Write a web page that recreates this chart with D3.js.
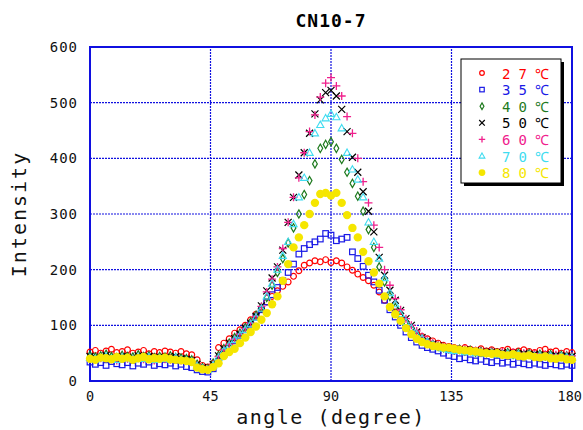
<!DOCTYPE html>
<html>
<head>
<meta charset="utf-8">
<script src="https://cdn.jsdelivr.net/npm/d3@7"></script>
<style>
  body { margin: 0; background: #fff; }
  svg { display: block; }
  text { font-family: "DejaVu Sans Mono", monospace; }
</style>
</head>
<body>
<div id="chart"></div>
<script>
// angle grid (degree)
const angles = [0,2,4,6,8,10,12,14,16,18,20,22,24,26,28,30,32,34,36,38,
  40,42,44,46,48,50,52,54,56,58,60,62,64,66,68,70,72,74,76,78,80,82,84,86,88,90,
  92,94,96,98,100,102,104,106,108,110,112,114,116,118,120,122,124,126,128,130,
  132,134,136,138,140,142,144,146,148,150,152,154,156,158,160,162,164,166,168,170,
  172,174,176,178,180];

const t27 = [52,55,50,54,57,51,53,56,50,52,55,49,53,51,54,52,50,53,49,47,
  38,28,25,
  32,60,68,76,86,92,100,110,120,130,142,152,162,170,178,188,198,208,212,216,214,218,213,
  216,212,205,199,192,186,180,172,160,145,133,124,115,104,94,
  86,80,76,72,68,64,62,60,58,60,57,55,58,54,56,53,55,57,52,54,56,53,51,55,57,52,54,50,53,51];

const t35 = [34,30,33,28,35,31,29,33,27,32,30,34,28,31,29,32,27,30,26,24,
  20,17,16,
  22,35,48,60,72,82,92,102,115,128,142,155,168,180,195,210,228,238,245,250,255,265,262,
  252,255,258,232,220,206,190,178,163,145,128,115,100,88,78,
  70,64,60,57,54,50,46,44,40,42,38,36,39,35,33,36,32,34,30,33,31,29,32,30,28,31,29,27,30,28];

const t40 = [46,43,45,48,44,42,46,44,43,47,44,45,42,44,43,45,42,41,40,38,
  30,24,22,
  32,46,58,68,78,86,96,106,118,132,150,172,195,220,248,275,300,335,360,390,418,425,430,
  418,398,375,355,332,305,272,240,205,178,152,132,118,105,94,
  84,76,70,66,62,60,58,56,57,54,55,52,53,51,52,50,49,51,48,50,47,49,46,48,45,47,44,46,45,44];

const t50 = [44,41,43,46,42,40,44,43,41,45,42,44,40,43,42,41,44,40,39,37,
  30,24,22,
  30,45,58,68,76,84,95,104,116,135,162,185,205,235,285,330,370,410,445,480,505,518,522,
  512,488,448,402,375,340,305,268,222,190,163,145,127,112,100,
  88,78,72,66,63,60,58,57,55,56,53,54,52,50,52,49,51,48,50,47,49,46,48,45,47,44,46,43,45,44];

const t60 = [40,38,41,43,39,37,42,40,38,41,39,42,37,40,39,38,41,37,36,34,
  28,22,21,
  30,44,56,66,75,84,94,104,116,134,160,183,205,238,285,330,365,410,448,478,510,535,545,
  530,512,475,445,400,358,320,280,240,200,172,148,128,112,100,
  90,80,73,68,64,61,59,58,56,57,54,55,53,51,53,50,52,49,51,48,50,47,49,46,48,45,47,44,46,45];

const t70 = [42,39,41,44,40,38,43,41,39,42,40,43,38,41,40,39,42,38,37,35,
  27,22,20,
  28,42,54,64,74,82,92,102,114,130,152,175,200,225,250,282,330,365,410,445,460,472,480,
  474,454,410,380,362,330,285,250,220,185,158,138,120,106,95,
  84,76,70,65,61,58,56,54,55,52,53,50,51,49,50,48,47,49,46,48,45,47,44,46,43,45,42,44,43,42];

const t80 = [40,38,42,41,39,43,40,42,38,41,43,39,41,40,42,39,38,37,36,34,
  24,21,20,
  25,32,45,52,58,68,78,88,98,110,122,138,152,180,210,240,258,280,300,320,336,338,333,
  338,320,298,275,258,232,215,195,175,152,133,120,108,95,84,
  76,70,66,63,62,60,60,58,56,55,54,53,51,50,49,50,47,46,48,45,44,46,43,42,44,41,40,42,39,38];

const seriesNames = ["27℃","35℃","40℃","50℃","60℃","70℃","80℃"];
const seriesValues = [t27, t35, t40, t50, t60, t70, t80];
const seriesColors = ["#ff0000","#1a1ae6","#1e7a1e","#000000","#f0208c","#40dcf0","#f5e600"];
const seriesMarks = ["circle","square","diamond","cross","plus","triangle","dot"];

const xTicks = [0,45,90,135,180];
const yTicks = [0,100,200,300,400,500,600];

const W = 583, H = 430;
const margin = {top: 47, right: 11, bottom: 49, left: 90};

const svg = d3.select("#chart").append("svg")
  .attr("width", W).attr("height", H);

const x = d3.scaleLinear().domain([0,180]).range([margin.left, W - margin.right]);
const y = d3.scaleLinear().domain([0,600]).range([H - margin.bottom, margin.top]);

const gridColor = "#1010e0";

// grid
svg.append("g").selectAll("line").data(xTicks.slice(1, -1)).join("line")
  .attr("x1", d => x(d)).attr("x2", d => x(d))
  .attr("y1", y(0)).attr("y2", y(600))
  .attr("stroke", gridColor).attr("stroke-width", 1.2).attr("stroke-dasharray", "2,1");
svg.append("g").selectAll("line").data(yTicks.slice(1, -1)).join("line")
  .attr("x1", x(0)).attr("x2", x(180))
  .attr("y1", d => y(d)).attr("y2", d => y(d))
  .attr("stroke", gridColor).attr("stroke-width", 1.2).attr("stroke-dasharray", "2,1");

// frame
svg.append("rect")
  .attr("x", x(0)).attr("y", y(600))
  .attr("width", x(180) - x(0)).attr("height", y(0) - y(600))
  .attr("fill", "none").attr("stroke", gridColor).attr("stroke-width", 2);

// tick labels
svg.append("g").selectAll("text").data(yTicks).join("text")
  .attr("x", x(0) - 12).attr("y", d => y(d) + 5)
  .attr("text-anchor", "end").attr("font-size", 14).attr("letter-spacing", 1)
  .attr("fill", "#111").text(d => d);
svg.append("g").selectAll("text").data(xTicks).join("text")
  .attr("y", y(0) + 20)
  .attr("text-anchor", "middle").attr("font-size", 13.5)
  .attr("fill", "#111").text(d => d)
  .attr("x", function(d) {
    const half = this.getComputedTextLength() / 2;
    return Math.min(x(d), W - 1 - half);
  });

// titles
svg.append("text").attr("x", x(90)).attr("y", 27)
  .attr("text-anchor", "middle").attr("font-size", 18).attr("font-weight", "bold")
  .attr("letter-spacing", 1).text("CN10-7");
svg.append("text").attr("x", x(90)).attr("y", 424)
  .attr("text-anchor", "middle").attr("font-size", 20).attr("letter-spacing", 1.5)
  .attr("fill", "#111").text("angle (degree)");
svg.append("text")
  .attr("transform", `translate(26, ${(y(0) + y(600)) / 2}) rotate(-90)`)
  .attr("text-anchor", "middle").attr("font-size", 20).attr("letter-spacing", 2)
  .attr("fill", "#111").text("Intensity");

// marker drawing
function drawMark(g, type, color, s) {
  switch (type) {
    case "circle":
      g.append("circle").attr("r", 2.9 * s).attr("fill", "none").attr("stroke", color).attr("stroke-width", 1.2);
      break;
    case "square":
      g.append("rect").attr("x", -2.8 * s).attr("y", -2.8 * s).attr("width", 5.6 * s).attr("height", 5.6 * s)
        .attr("fill", "none").attr("stroke", color).attr("stroke-width", 1.2);
      break;
    case "diamond":
      g.append("path").attr("d", d3.symbol(d3.symbolDiamond, 20 * s * s)())
        .attr("fill", "none").attr("stroke", color).attr("stroke-width", 1.2);
      break;
    case "cross":
      g.append("path").attr("d", `M${-3.5*s},${-3.5*s}L${3.5*s},${3.5*s}M${-3.5*s},${3.5*s}L${3.5*s},${-3.5*s}`)
        .attr("stroke", color).attr("stroke-width", 1.2);
      break;
    case "plus":
      g.append("path").attr("d", `M${-4*s},0L${4*s},0M0,${-4*s}L0,${4*s}`)
        .attr("stroke", color).attr("stroke-width", 1.3);
      break;
    case "triangle":
      g.append("path").attr("d", `M0,${-3.8*s}L${3.6*s},${2.6*s}L${-3.6*s},${2.6*s}Z`)
        .attr("fill", "none").attr("stroke", color).attr("stroke-width", 1.1);
      break;
    case "dot":
      g.append("circle").attr("r", 4.2 * s).attr("fill", color);
      break;
  }
}

// data points
const plot = svg.append("g");
seriesValues.forEach((vals, si) => {
  const g = plot.append("g");
  g.selectAll("g").data(vals).join("g")
    .attr("transform", (d, i) => `translate(${x(angles[i])},${y(d)})`)
    .each(function() { drawMark(d3.select(this), seriesMarks[si], seriesColors[si], 1); });
});

// legend
const lx = 461, ly = 59, lw = 100, lh = 124;
svg.append("rect").attr("x", lx + 3).attr("y", ly + 3).attr("width", lw).attr("height", lh).attr("fill", "#000");
svg.append("rect").attr("x", lx).attr("y", ly).attr("width", lw).attr("height", lh)
  .attr("fill", "#fff").attr("stroke", "#000").attr("stroke-width", 1);
const legendRows = svg.append("g").selectAll("g").data(seriesNames).join("g")
  .attr("transform", (d, i) => `translate(0, ${ly + 14 + i * 16.6})`);
legendRows.each(function(d, i) {
  const r = d3.select(this);
  const m = r.append("g").attr("transform", `translate(${lx + 21}, 0)`);
  drawMark(m, seriesMarks[i], seriesColors[i], 0.8);
  r.append("text").attr("x", lx + 41).attr("y", 5.5)
    .attr("font-size", 14).attr("letter-spacing", 8)
    .attr("fill", seriesColors[i]).text(d);
});
</script>
</body>
</html>
